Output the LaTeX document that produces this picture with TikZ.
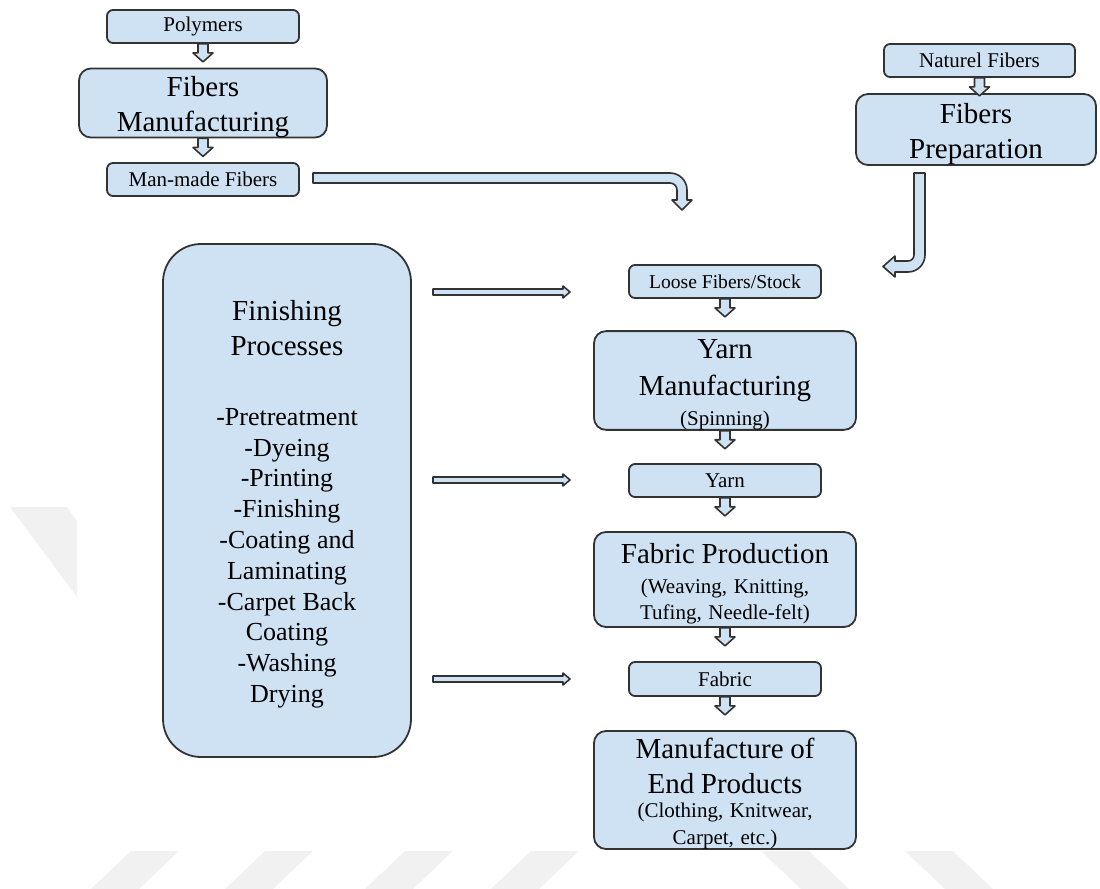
\documentclass[tikz,border=0pt]{standalone}
\usepackage{fontspec}
\setmainfont{Liberation Serif}

\definecolor{boxblue}{HTML}{CFE2F3}
\definecolor{edgegray}{HTML}{333333}
\definecolor{markgray}{HTML}{F1F1F1}

\newcommand{\bigfont}{\fontsize{14.5}{17.5}\selectfont}
\newcommand{\subfont}{\fontsize{10.5}{13}\selectfont}
\newcommand{\listfont}{\fontsize{13}{15.4}\selectfont}
% push the text of a box down without making the box taller
\newcommand{\lift}[1]{\rule{0pt}{#1}}
\newcommand{\drop}[1]{\par\vspace{-#1}}

% small hollow arrow below a node
\newcommand{\downblock}[1]{\draw[blockarrow] (#1.south) ++(-5,0) -- ++(0,9) -- ++(-5,0) -- ++(10,9) -- ++(10,-9) -- ++(-5,0) -- ++(0,-9) -- cycle;}
% thin hollow arrow to the right
\newcommand{\rightblock}[1]{\draw[blockarrow] (#1) ++(0,-3) -- ++(130,0) -- ++(0,-3) -- ++(7,6) -- ++(-7,6) -- ++(0,-3) -- ++(-130,0) -- cycle;}

\tikzset{
    box/.style={draw=edgegray, line width=0.9pt, fill=boxblue, rounded corners=3pt, inner sep=0pt, align=center},
    smallbox/.style={box, minimum width=96pt, minimum height=16.5pt, font=\fontsize{10.5}{12}\selectfont},
    bigbox/.style={box, rounded corners=6pt, minimum width=131pt, text width=127pt},
    blockarrow/.style={draw=edgegray, line width=0.8pt, fill=boxblue, line join=round},
    mark/.style={fill=markgray, draw=none}
}

\begin{document}
\begin{tikzpicture}[x=0.5pt, y=-0.5pt]
    \useasboundingbox (0,0) rectangle (1100,889);

    % faint marks of the page behind
    \fill[markgray] (10,507) -- (67,507) -- (77,521) -- (77,597) -- cycle;
    \fill[markgray] (91,889) -- (139,889) -- (179,851) -- (131,851) -- cycle;
    \fill[markgray] (225,889) -- (273,889) -- (313,851) -- (265,851) -- cycle;
    \fill[markgray] (365,889) -- (413,889) -- (453,851) -- (405,851) -- cycle;
    \fill[markgray] (491,889) -- (539,889) -- (579,851) -- (531,851) -- cycle;
    \fill[markgray] (761,851) -- (809,851) -- (849,889) -- (801,889) -- cycle;
    \fill[markgray] (905,851) -- (953,851) -- (993,889) -- (945,889) -- cycle;

    % man-made side
    \node[smallbox] (poly) at (203,26.5) {Polymers};
    \node[bigbox, minimum width=124pt, text width=120pt, minimum height=33pt] (fibmfg) at (203,103) {\bigfont\lift{13.9pt}Fibers\\Manufacturing\drop{4pt}};
    \node[smallbox] (manmade) at (203,179.5) {Man-made Fibers};

    % natural side
    \node[smallbox, minimum width=95.5pt] (natural) at (979.5,60.5) {Naturel Fibers};
    \node[bigbox, minimum width=120pt, text width=116pt, minimum height=33.5pt] (fibprep) at (976,129.5) {\bigfont\lift{14.9pt}Fibers\\Preparation\drop{5pt}};

    % main column
    \node[smallbox, font=\fontsize{9.8}{12}\selectfont] (loose) at (725,281.5) {Loose Fibers/Stock};
    \node[bigbox, minimum height=47.5pt] (yarnmfg) at (725,380.5) {\bigfont\lift{13.6pt}Yarn\\[1pt]Manufacturing\\[2pt]\subfont (Spinning)\drop{4pt}};
    \node[smallbox] (yarn) at (725,480.5) {Yarn};
    \node[bigbox, minimum height=47.5pt] (fabprod) at (725,579.5) {\bigfont\lift{13.9pt}Fabric Production\\[2pt]\subfont (Weaving, Knitting,\\Tufing, Needle-felt)\drop{4pt}};
    \node[smallbox, minimum height=17pt] (fabric) at (725,679) {Fabric};
    \node[bigbox, minimum height=59pt] (endprod) at (725,790) {\bigfont\lift{13.4pt}Manufacture of\\End Products\\[-1pt]\subfont (Clothing, Knitwear,\\[0.5pt]Carpet, etc.)\drop{3.5pt}};

    % finishing
    \node[bigbox, rounded corners=19pt, minimum width=124pt, text width=118pt, minimum height=256.5pt] (finish) at (287,500.5)
        {\bigfont\lift{13.9pt}Finishing\\Processes\\[19.5pt]\listfont -Pretreatment\\-Dyeing\\-Printing\\-Finishing\\-Coating and\\Laminating\\-Carpet Back\\Coating\\-Washing\\Drying\drop{4pt}};

    % arrows between boxes
    \downblock{poly}
    \downblock{fibmfg}
    \downblock{natural}
    \downblock{loose}
    \downblock{yarnmfg}
    \downblock{yarn}
    \downblock{fabprod}
    \downblock{fabric}

    % bent arrows into the loose fibers
    \coordinate (mmstart) at (313,173);
    \draw[blockarrow] (mmstart) -- (670,173) .. controls (679.4,173) and (687,180.6) .. (687,190) -- (687,200) -- (692,200) -- (682,210) -- (672,200) -- (677,200) -- (677,190) .. controls (677,186.1) and (673.9,183) .. (670,183) -- (313,183) -- cycle;
    \coordinate (fpstart) at (914,173);
    \draw[blockarrow] (fpstart) -- (925,173) -- (925,255) .. controls (925,264.4) and (917.4,272) .. (908,272) -- (895,272) -- (895,277) -- (883,266.5) -- (895,256) -- (895,261) -- (908,261) .. controls (911.3,261) and (914,258.3) .. (914,255) -- cycle;

    % finishing applies to each stage
    \coordinate (toloose) at (433,292);
    \coordinate (toyarn) at (433,480);
    \coordinate (tofabric) at (433,679);
    \rightblock{toloose}
    \rightblock{toyarn}
    \rightblock{tofabric}
\end{tikzpicture}
\end{document}
